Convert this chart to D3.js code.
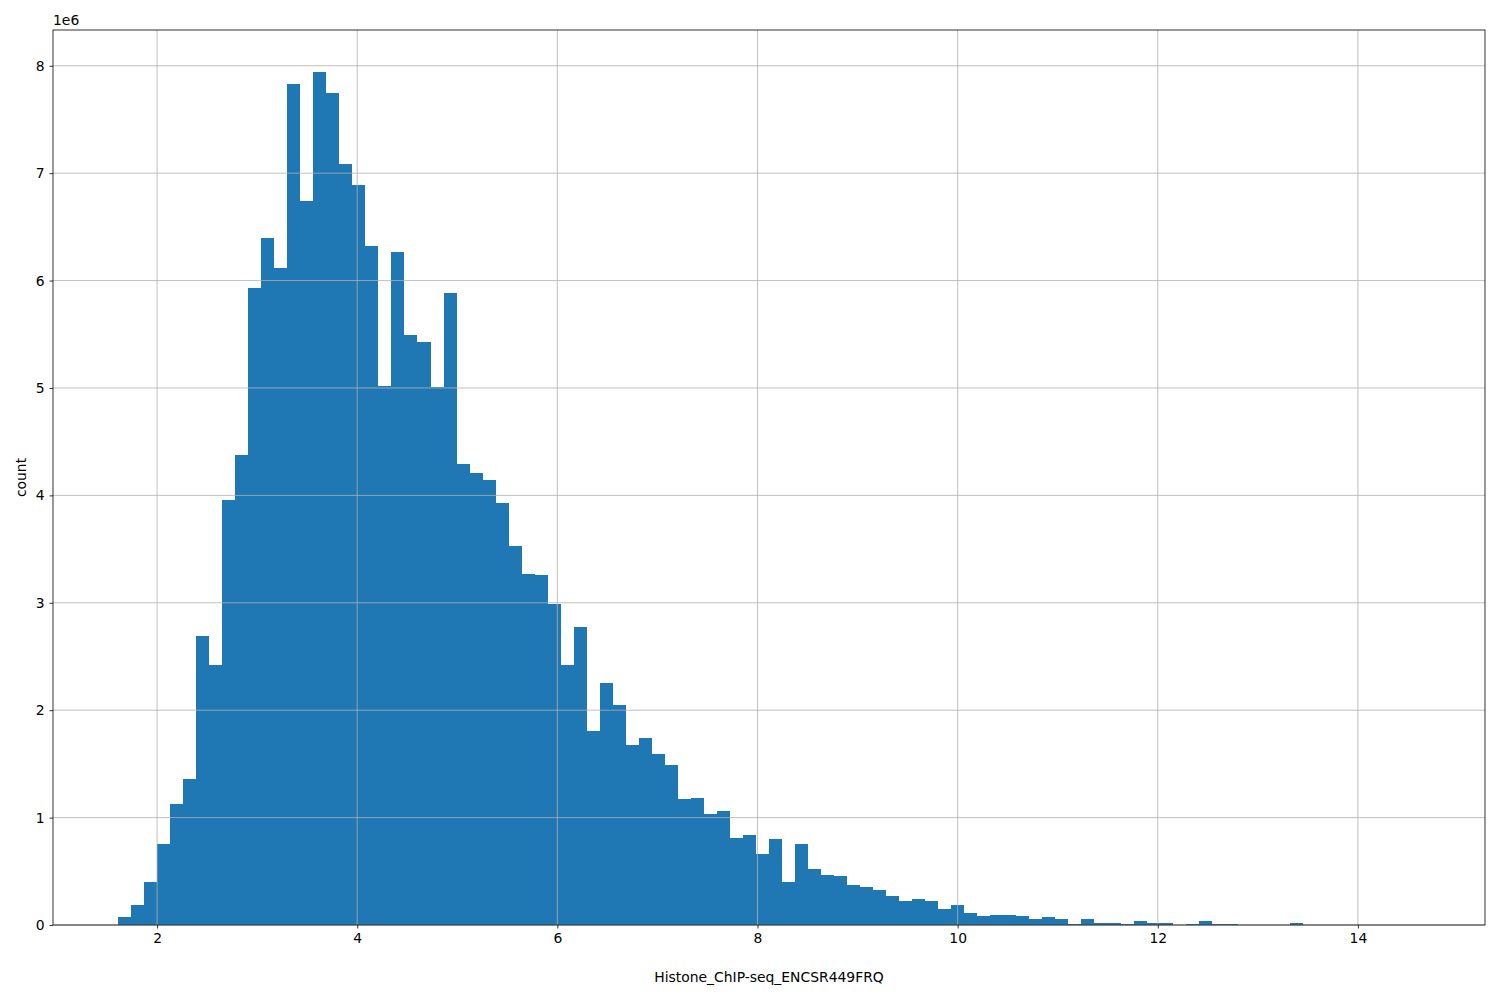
<!DOCTYPE html>
<html><head><meta charset="utf-8">
<script src="https://cdn.jsdelivr.net/npm/d3@7"></script>
<style>body{margin:0;background:#fff;font-family:"DejaVu Sans",sans-serif;}</style>
</head><body>
<script>
// histogram: 100 bins from binStart, width binWidth; counts in millions
const binStart = 1.61;
const binWidth = 0.1301;
const counts = [
  0.07, 0.19, 0.40, 0.75, 1.13, 1.36, 2.69, 2.42, 3.96, 4.38,
  5.93, 6.40, 6.12, 7.83, 6.74, 7.94, 7.75, 7.09, 6.89, 6.32,
  5.02, 6.27, 5.49, 5.43, 5.01, 5.88, 4.29, 4.21, 4.14, 3.93,
  3.53, 3.27, 3.26, 2.99, 2.42, 2.77, 1.81, 2.25, 2.05, 1.68,
  1.74, 1.59, 1.49, 1.17, 1.18, 1.03, 1.06, 0.81, 0.84, 0.66,
  0.80, 0.40, 0.75, 0.52, 0.47, 0.46, 0.37, 0.35, 0.33, 0.27,
  0.22, 0.24, 0.22, 0.15, 0.19, 0.11, 0.08, 0.09, 0.09, 0.08,
  0.06, 0.07, 0.06, 0.01, 0.06, 0.02, 0.02, 0.01, 0.04, 0.02,
  0.02, 0.00, 0.01, 0.04, 0.01, 0.01, 0.00, 0.00, 0.00, 0.00,
  0.02, 0.00, 0.00, 0.00, 0.00, 0.00, 0.00, 0.00, 0.00, 0.003
];
const xTicks = [2, 4, 6, 8, 10, 12, 14];
const yTicks = [0, 1, 2, 3, 4, 5, 6, 7, 8];

const W = 1500, H = 1000;
const m = {left: 53, right: 15, top: 30, bottom: 75};
const svg = d3.select("body").append("svg").attr("width", W).attr("height", H);

const x = d3.scaleLinear().domain([0.96, 15.27]).range([m.left, W - m.right]);
const y = d3.scaleLinear().domain([0, 8.333]).range([H - m.bottom, m.top]);

const g = svg.append("g");

g.selectAll(".bar").data(counts).enter().append("rect")
  .attr("x", (d, i) => x(binStart + i * binWidth))
  .attr("width", (d, i) => x(binStart + (i + 1) * binWidth) - x(binStart + i * binWidth))
  .attr("y", d => y(d))
  .attr("height", d => y(0) - y(d))
  .attr("fill", "#1f77b4")
  .attr("shape-rendering", "crispEdges");

// grid on top (matplotlib default here draws grid above bars)
g.selectAll(".vg").data(xTicks).enter().append("line")
  .attr("x1", d => x(d)).attr("x2", d => x(d))
  .attr("y1", m.top).attr("y2", H - m.bottom)
  .attr("stroke", "#b0b0b0").attr("stroke-width", 0.8);
g.selectAll(".hg").data(yTicks).enter().append("line")
  .attr("x1", m.left).attr("x2", W - m.right)
  .attr("y1", d => y(d)).attr("y2", d => y(d))
  .attr("stroke", "#b0b0b0").attr("stroke-width", 0.8);

const xAxis = svg.append("g").attr("transform", `translate(0,${H - m.bottom})`)
  .call(d3.axisBottom(x).tickValues(xTicks).tickSize(3.5).tickPadding(5).tickFormat(d3.format("d")));
const yAxis = svg.append("g").attr("transform", `translate(${m.left},0)`)
  .call(d3.axisLeft(y).tickValues(yTicks).tickSize(3.5).tickPadding(5).tickFormat(d3.format("d")));
[xAxis, yAxis].forEach(a => {
  a.select(".domain").remove();
  a.selectAll("text").attr("font-size", 13.9).attr("font-family", "DejaVu Sans").attr("fill", "#000");
  a.selectAll("line").attr("stroke", "#000").attr("stroke-width", 0.8);
});

svg.append("rect").attr("x", m.left).attr("y", m.top)
  .attr("width", W - m.left - m.right).attr("height", H - m.top - m.bottom)
  .attr("fill", "none").attr("stroke", "#000").attr("stroke-width", 0.8);

svg.append("text").attr("x", m.left).attr("y", m.top - 5)
  .attr("font-size", 13.9).text("1e6");
svg.append("text").attr("x", (m.left + W - m.right) / 2).attr("y", 982)
  .attr("text-anchor", "middle").attr("font-size", 13.9).text("Histone_ChIP-seq_ENCSR449FRQ");
svg.append("text").attr("transform", `translate(26,${(m.top + H - m.bottom) / 2}) rotate(-90)`)
  .attr("text-anchor", "middle").attr("font-size", 13.9).text("count");
</script>
</body></html>
